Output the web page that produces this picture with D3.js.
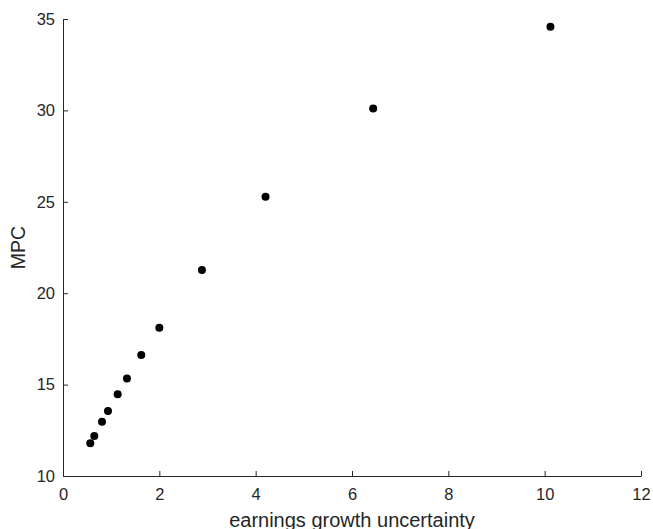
<!DOCTYPE html>
<html><head><meta charset="utf-8">
<script src="https://cdn.jsdelivr.net/npm/d3@7"></script>
<style>body{margin:0;background:#fff}svg{display:block}</style>
</head><body><svg id="c" width="653" height="529"></svg>
<script>
const uncertainty = [0.567, 0.65, 0.81, 0.934, 1.135, 1.328, 1.625, 2.0, 2.884, 4.205, 6.44, 10.12];
const mpc = [11.79, 12.19, 12.97, 13.56, 14.47, 15.34, 16.62, 18.11, 21.27, 25.28, 30.11, 34.58];
const xTicks = [0, 2, 4, 6, 8, 10, 12];
const yTicks = [10, 15, 20, 25, 30, 35];

const svg = d3.select('#c');
const font = '"Liberation Sans", Arial, sans-serif';
const col = '#262626';
const x = d3.scaleLinear().domain([0, 12]).range([63, 641]);
const y = d3.scaleLinear().domain([10, 35]).range([476, 19]);

const xa = svg.append('g').attr('transform', 'translate(0,476)')
  .call(d3.axisBottom(x).tickValues(xTicks).tickSizeInner(-5).tickSizeOuter(0).tickPadding(12));
const ya = svg.append('g').attr('transform', 'translate(63,0)')
  .call(d3.axisLeft(y).tickValues(yTicks).tickSizeInner(-5).tickSizeOuter(0).tickPadding(8));
[xa, ya].forEach(a => {
  a.selectAll('path,line').attr('stroke', col).attr('stroke-width', 1);
  a.selectAll('text').attr('fill', col).style('font-family', font).style('font-size', '16.5px');
});

svg.append('text').attr('x', x(6)).attr('y', 527).attr('text-anchor', 'middle')
  .attr('fill', col).style('font-family', font).style('font-size', '20px')
  .text('earnings growth uncertainty');
svg.append('text').attr('transform', 'translate(25,' + y(22.5) + ') rotate(-90)')
  .attr('text-anchor', 'middle').attr('fill', col).style('font-family', font).style('font-size', '19.5px')
  .text('MPC');

svg.append('g').selectAll('circle').data(uncertainty).join('circle')
  .attr('cx', (d) => x(d)).attr('cy', (d, i) => y(mpc[i])).attr('r', 4).attr('fill', '#000');
</script></body></html>
